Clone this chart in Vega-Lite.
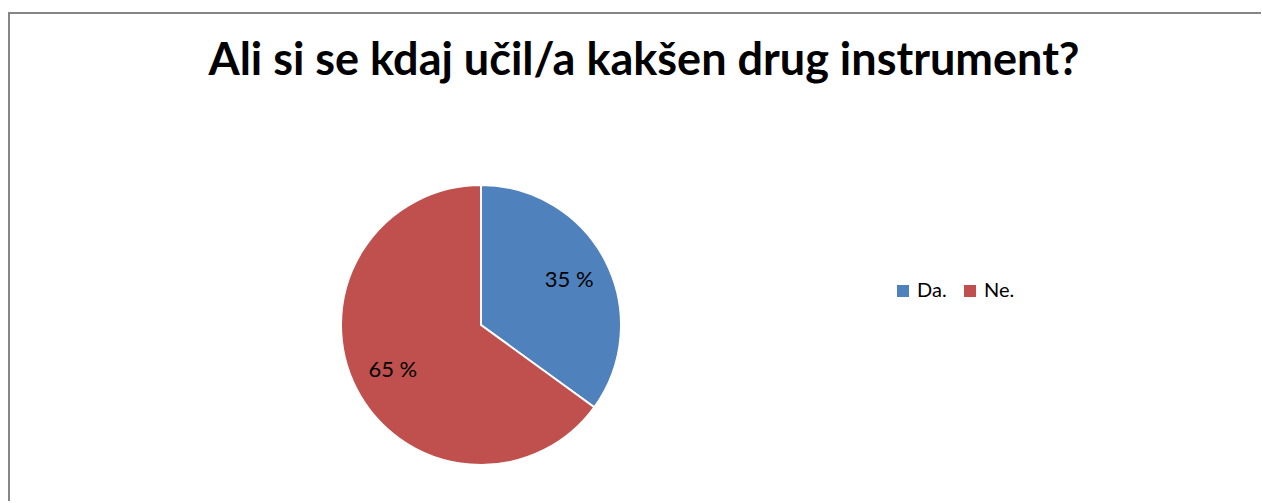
{
  "$schema": "https://vega.github.io/schema/vega-lite/v6.json",
  "background": "white",
  "padding": {"left": 8, "top": 12, "right": 0, "bottom": 0},
  "spacing": 0,
  "bounds": "flush",
  "config": {"text": {"font": "Lato"}},
  "vconcat": [
    {
      "data": {"values": []},
      "width": 1252,
      "height": 136,
      "view": {"stroke": "#868686", "strokeWidth": 2, "strokeDash": [1252, 1388, 136]},
      "title": {
        "text": "Ali si se kdaj učil/a kakšen drug instrument?",
        "font": "Lato",
        "fontSize": 45,
        "fontWeight": "bold",
        "color": "#000000",
        "anchor": "middle",
        "baseline": "alphabetic",
        "offset": -107,
        "dx": 9
      },
      "mark": "text"
    },
    {
      "data": {
        "values": [
          {"odgovor": "Da.", "delez": 35, "oznaka": "35 %"},
          {"odgovor": "Ne.", "delez": 65, "oznaka": "65 %"}
        ]
      },
      "width": 944,
      "height": 352,
      "view": {"stroke": "#868686", "strokeWidth": 2, "strokeDash": [0, 2240, 352]},
      "encoding": {
        "theta": {"field": "delez", "type": "quantitative", "stack": true},
        "order": {"field": "odgovor", "sort": "ascending"}
      },
      "layer": [
        {
          "mark": {"type": "arc", "outerRadius": 140, "stroke": "#ffffff", "strokeWidth": 2},
          "encoding": {
            "color": {
              "field": "odgovor",
              "type": "nominal",
              "scale": {"domain": ["Da.", "Ne."], "range": ["#4F81BD", "#C0504D"]},
              "legend": {
                "orient": "none",
                "legendX": 884,
                "legendY": 268,
                "direction": "horizontal",
                "title": null,
                "symbolType": "square",
                "symbolSize": 144,
                "symbolStrokeWidth": 0,
                "labelFont": "Lato",
                "labelFontSize": 20,
                "labelColor": "#000000",
                "labelOffset": 4,
                "columnPadding": 13,
                "padding": 0
              }
            }
          }
        },
        {
          "mark": {"type": "text", "radius": 99, "fontSize": 22, "font": "Lato", "color": "#000000"},
          "encoding": {"text": {"field": "oznaka", "type": "nominal"}}
        }
      ]
    }
  ]
}
